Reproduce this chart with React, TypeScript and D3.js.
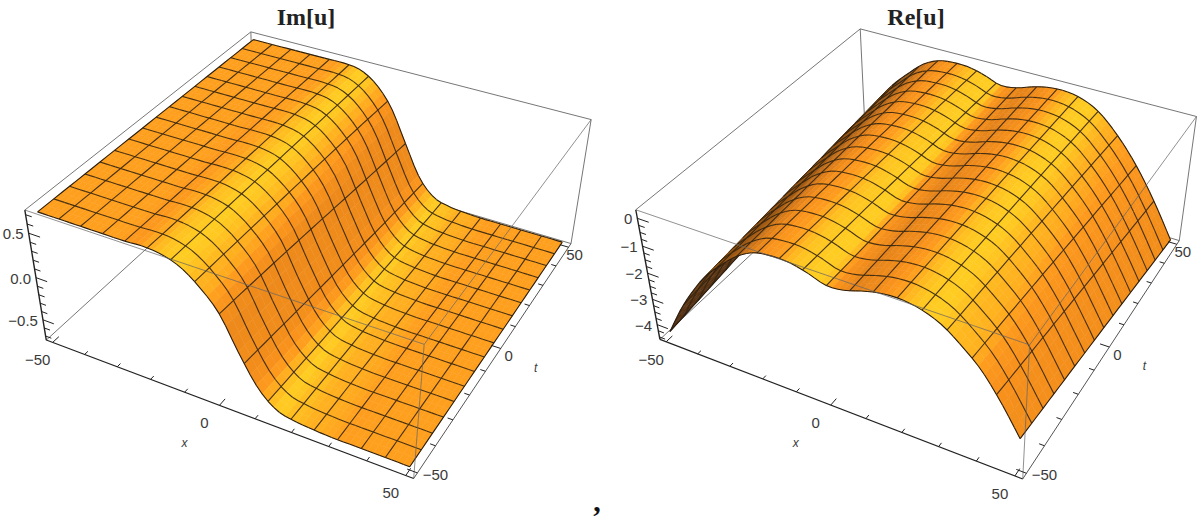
import React, {useEffect, useRef} from 'react'
import * as d3 from 'd3'

// values, profile across x at the t = -50 and t = +50 edges
const profileXi = d3.range(-60, 60.01, 5)
const imFront = [0.71, 0.71, 0.71, 0.71, 0.71, 0.71, 0.71, 0.71, 0.72, 0.7, 0.63, 0.48, 0.26, -0.12, -0.45, -0.63, -0.68, -0.7, -0.71, -0.71, -0.71, -0.71, -0.71, -0.71, -0.71]
const imBack = [0.71, 0.71, 0.71, 0.71, 0.71, 0.71, 0.71, 0.71, 0.71, 0.68, 0.56, 0.33, -0.05, -0.42, -0.62, -0.68, -0.7, -0.71, -0.71, -0.71, -0.71, -0.71, -0.71, -0.71, -0.71]
const reFront = [-6.6, -5.5, -4.37, -3.25, -2.3, -1.5, -0.9, -0.38, -0.03, 0.08, 0.07, -0.08, -0.3, -0.24, -0.04, 0.1, 0.12, 0, -0.28, -0.78, -1.4, -2.3, -3.36, -4.4, -5.4]
const reBack = [-5.2, -4.1, -3.1, -2.15, -1.4, -0.82, -0.3, 0, 0.09, 0.07, -0.08, -0.3, -0.24, -0.04, 0.1, 0.12, 0, -0.3, -0.85, -1.55, -2.4, -3.4, -4.5, -5.6, -6.7]

const meshValues = d3.range(0, 17)
const axisTicks = d3.range(-50, 50.01, 10)
const imZTicks = d3.range(-0.7, 0.71, 0.1)
const reZTicks = d3.range(-4.5, 0.01, 0.25)

type Corner = [number, number, number, number, number]

// box corners on the page: sx, st, sz, px, py
const imCorners: Corner[] = [
    [-1, -1, -1, 46, 340], [1, -1, -1, 414, 478], [1, 1, -1, 571, 244],
    [-1, -1, 1, 25, 210], [1, -1, 1, 424, 345], [1, 1, 1, 591, 119], [-1, 1, 1, 251, 32],
]
const reCorners: Corner[] = [
    [-1, -1, -1, 660, 340], [1, -1, -1, 1023, 479], [1, 1, -1, 1179, 240],
    [-1, -1, 1, 636, 209], [1, -1, 1, 1029, 345], [1, 1, 1, 1197, 117], [-1, 1, 1, 860, 29],
]

const solveCamera = (corners: Corner[]) => {
    // least squares for the 3x4 camera matrix, last element fixed to 1
    const rows: number[][] = []
    const rhs: number[] = []
    corners.forEach(([a, b, c, u, v]) => {
        rows.push([a, b, c, 1, 0, 0, 0, 0, -u * a, -u * b, -u * c]); rhs.push(u)
        rows.push([0, 0, 0, 0, a, b, c, 1, -v * a, -v * b, -v * c]); rhs.push(v)
    })
    const n = 11
    const m = Array.from({length: n}, (_, i) => {
        const row = Array.from({length: n}, (_, j) => d3.sum(rows, (r) => r[i] * r[j]))
        row.push(d3.sum(rows, (r, k) => r[i] * rhs[k]))
        return row
    })
    for (let i = 0; i < n; i++) {
        let p = i
        for (let r = i + 1; r < n; r++) if (Math.abs(m[r][i]) > Math.abs(m[p][i])) p = r
        ;[m[i], m[p]] = [m[p], m[i]]
        for (let r = 0; r < n; r++) {
            if (r === i) continue
            const f = m[r][i] / m[i][i]
            for (let c = i; c <= n; c++) m[r][c] -= f * m[i][c]
        }
    }
    return m.map((row, i) => row[n] / row[i])
}

const catmull = (xi: number[], values: number[]) => (v: number) => {
    const step = xi[1] - xi[0]
    const pos = Math.max(1, Math.min(xi.length - 3 + 0.999, (v - xi[0]) / step))
    const i = Math.floor(pos)
    const f = pos - i
    const [a, b, c, d] = [values[i - 1], values[i], values[i + 1], values[i + 2]]
    return b + 0.5 * f * (c - a + f * (2 * a - 5 * b + 4 * c - d + f * (3 * (b - c) + d - a)))
}

const shadeColor = d3.scaleLinear<string>()
    .domain([0, 0.3, 0.6, 0.84, 0.9, 0.965, 1])
    .range(['#4a2a10', '#8a5016', '#d87a18', '#f8921c', '#ff9d1e', '#ffbe20', '#ffcc22'])
    .clamp(true)

const light = [Math.sin(0.44), 0, Math.cos(0.44)]

type Panel = {
    title: string
    titleX: number
    corners: Corner[]
    front: number[]
    back: number[]
    drift: number
    zRange: [number, number]
    zTicks: number[]
    zLabels: string[]
    zMajor: (z: number) => boolean
}

const panels: Panel[] = [
    {
        title: 'Im[u]', titleX: 306, corners: imCorners, front: imFront, back: imBack, drift: 0.05,
        zRange: [-0.75, 0.75], zTicks: imZTicks, zLabels: ['0.5', '0.0', '\u22120.5'],
        zMajor: (z) => Math.abs(z * 2 - Math.round(z * 2)) < 0.01,
    },
    {
        title: 'Re[u]', titleX: 916, corners: reCorners, front: reFront, back: reBack, drift: 0.05,
        zRange: [-4.6, 0.3], zTicks: reZTicks, zLabels: ['0', '\u22121', '\u22122', '\u22123', '\u22124'],
        zMajor: (z) => Math.abs(z - Math.round(z)) < 0.01,
    },
]

const drawPanel = (root: d3.Selection<SVGSVGElement, unknown, null, undefined>, panel: Panel) => {
    const cam = solveCamera(panel.corners)
    const sx = d3.scaleLinear().domain([-52, 52]).range([-1, 1])
    const sz = d3.scaleLinear().domain(panel.zRange).range([-1, 1])
    const project = (x: number, t: number, zs: number): [number, number] => {
        const a = sx(x), b = sx(t)
        const w = cam[8] * a + cam[9] * b + cam[10] * zs + 1
        return [
            (cam[0] * a + cam[1] * b + cam[2] * zs + cam[3]) / w,
            (cam[4] * a + cam[5] * b + cam[6] * zs + cam[7]) / w,
        ]
    }
    const frontAt = catmull(profileXi, panel.front)
    const backAt = catmull(profileXi, panel.back)
    const height = (x: number, t: number) => {
        const w = (t + 50) / 100
        return (1 - w) * frontAt(x + panel.drift * (t + 50)) + w * backAt(x + panel.drift * (t - 50))
    }
    const surfacePoint = (x: number, t: number) => project(x, t, sz(height(x, t)))
    const g = root.append('g')

    const edge = (a: [number, number], b: [number, number], opacity = 1) =>
        g.append('line')
            .attr('x1', a[0]).attr('y1', a[1]).attr('x2', b[0]).attr('y2', b[1])
            .attr('stroke', '#666').attr('stroke-width', 0.9).attr('opacity', opacity)

    // box edges behind the surface
    const L = -52, R = 52
    edge(project(L, L, 1), project(L, R, 1))
    edge(project(L, R, 1), project(R, R, 1))
    edge(project(L, R, 1), project(L, R, -1))
    edge(project(L, L, -1), project(L, R, -1))
    edge(project(L, R, -1), project(R, R, -1))

    // surface, painted from -x to +x
    const subX = 4, subT = 2
    const cells = meshValues.length - 1
    const xs = d3.range(0, cells * subX + 1).map((i) => -50 + (100 * i) / (cells * subX))
    const ts = d3.range(0, cells * subT + 1).map((i) => -50 + (100 * i) / (cells * subT))
    const halfZ = (panel.zRange[1] - panel.zRange[0]) / 2
    const lineGen = d3.line()

    const meshFor = (i: number) => {
        const x0 = xs[i], x1 = xs[i + 1]
        let d = ''
        ts.forEach((t, j) => {
            if (j % subT === 0 && j !== 0 && j !== ts.length - 1) d += lineGen([surfacePoint(x0, t), surfacePoint(x1, t)])
        })
        if ((i + 1) % subX === 0 && i + 1 !== xs.length - 1) {
            d += lineGen(ts.map((t) => surfacePoint(x1, t)))
        }
        g.append('path').attr('d', d).attr('fill', 'none')
            .attr('stroke', '#33240f').attr('stroke-width', 1.1).attr('opacity', 0.9)
        let border = lineGen([surfacePoint(x0, ts[0]), surfacePoint(x1, ts[0])])! + lineGen([surfacePoint(x0, ts[ts.length - 1]), surfacePoint(x1, ts[ts.length - 1])])
        if (i === 0) border += lineGen(ts.map((t) => surfacePoint(x0, t)))
        if (i === xs.length - 2) border += lineGen(ts.map((t) => surfacePoint(x1, t)))
        g.append('path').attr('d', border).attr('fill', 'none')
            .attr('stroke', '#2a1e10').attr('stroke-width', 1.1)
    }

    d3.range(xs.length - 1).forEach((i) => {
        const strip = g.append('g')
        d3.range(ts.length - 2, -1, -1).forEach((j) => {
            const x0 = xs[i], x1 = xs[i + 1], t0 = ts[j], t1 = ts[j + 1]
            const xm = (x0 + x1) / 2, tm = (t0 + t1) / 2
            const dzdx = (height(x1, tm) - height(x0, tm)) / (x1 - x0)
            const dzdt = (height(xm, t1) - height(xm, t0)) / (t1 - t0)
            const zx = (dzdx / halfZ) * 0.4 * 52
            const zt = (dzdt / halfZ) * 0.4 * 52
            const len = Math.hypot(zx, zt, 1)
            const shade = (-zx * light[0] - zt * light[1] + light[2]) / len
            const color = shadeColor(shade)
            strip.append('path')
                .attr('d', lineGen([surfacePoint(x0, t0), surfacePoint(x1, t0), surfacePoint(x1, t1), surfacePoint(x0, t1)])! + 'Z')
                .attr('fill', color).attr('stroke', color).attr('stroke-width', 0.5)
        })
        if (i > 0) meshFor(i - 1)
    })
    meshFor(xs.length - 2)

    // box edges in front of the surface
    edge(project(L, L, 1), project(R, L, 1), 0.8)
    edge(project(R, L, 1), project(R, R, 1), 0.8)
    edge(project(R, L, 1), project(R, L, -1), 0.8)
    edge(project(R, R, 1), project(R, R, -1))

    // axes
    const axisLine = (a: [number, number], b: [number, number], w = 1.2, color = '#222') =>
        g.append('line')
            .attr('x1', a[0]).attr('y1', a[1]).attr('x2', b[0]).attr('y2', b[1])
            .attr('stroke', color).attr('stroke-width', w)
    axisLine(project(L, L, -1), project(R, L, -1))
    axisLine(project(R, L, -1), project(R, R, -1), 1, '#555')
    axisLine(project(L, L, -1), project(L, L, 1), 1.4)

    axisTicks.forEach((v) => {
        const size = Math.abs(v) % 50 === 0 ? 2.6 : 1.4
        axisLine(project(v, L, -1), project(v, L + size, -1), 1)
        axisLine(project(R, v, -1), project(R - size, v, -1), 1)
    })
    panel.zTicks.forEach((z) => {
        const zs = sz(z)
        axisLine(project(L, L, zs), project(L + (panel.zMajor(z) ? 3.4 : 1.8), L, zs), 1)
    })

    const label = (p: [number, number], dx: number, dy: number, text: string, anchor = 'middle', size = 15) =>
        g.append('text')
            .attr('x', p[0] + dx).attr('y', p[1] + dy)
            .attr('text-anchor', anchor)
            .attr('dominant-baseline', 'middle')
            .attr('font-family', 'Liberation Sans')
            .attr('font-size', size)
            .attr('fill', '#3a3a3a')
            .text(text)

    ;[-50, 0, 50].forEach((v) => {
        label(project(v, L, -1), -15, 19, v < 0 ? '\u221250' : String(v))
        label(project(R, v, -1), v < 0 ? 18 : v === 0 ? 8 : 6, v < 0 ? 3 : 9, v < 0 ? '\u221250' : String(v))
    })
    const zValues = panel.zTicks.filter(panel.zMajor).filter((z) => Math.abs(z) < 4.2).reverse()
    zValues.forEach((z, i) => {
        label(project(L, L, sz(z)), -5, 2, panel.zLabels[i], 'end')
    })
    label(project(0, L, -1), -35, 39, 'x', 'middle', 12).attr('font-style', 'italic')
    label(project(R, 0, -1), 35, 20, 't', 'middle', 12).attr('font-style', 'italic')

    g.append('text')
        .attr('x', panel.titleX).attr('y', 25)
        .attr('text-anchor', 'middle')
        .attr('font-family', 'Liberation Serif')
        .attr('font-weight', 'bold')
        .attr('font-size', 24)
        .attr('fill', '#222')
        .text(panel.title)
}

export default function App() {
    const svgRef = useRef<SVGSVGElement>(null)

    useEffect(() => {
        const svg = d3.select(svgRef.current!)
        svg.selectAll('*').remove()
        panels.forEach((p) => drawPanel(svg, p))
        svg.append('text')
            .attr('x', 597).attr('y', 511)
            .attr('text-anchor', 'middle')
            .attr('font-family', 'Liberation Serif')
            .attr('font-weight', 'bold')
            .attr('font-size', 30)
            .attr('fill', '#111')
            .text(',')
    }, [])

    return (
        <svg
            ref={svgRef}
            width={1204}
            height={517}
            style={{position: 'absolute', left: 0, top: 0, background: '#fff'}}
        />
    )
}
